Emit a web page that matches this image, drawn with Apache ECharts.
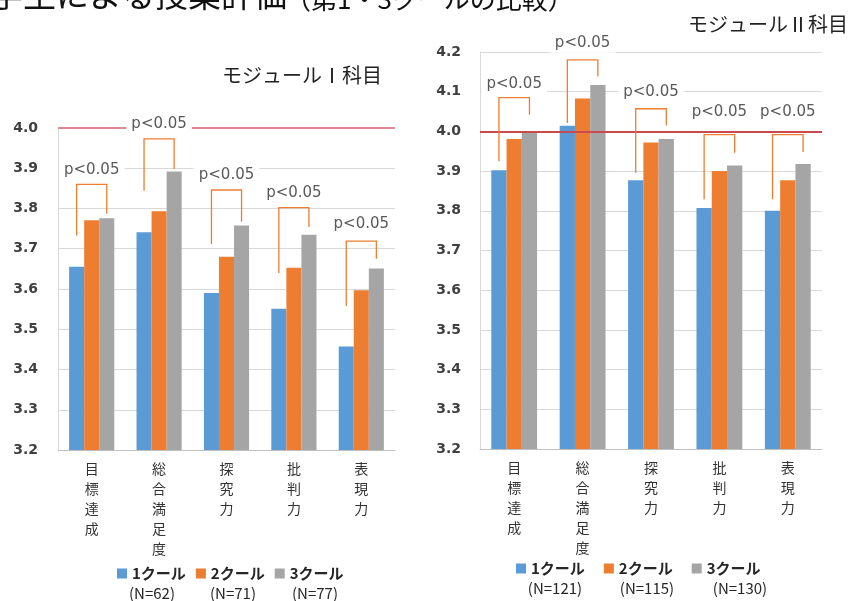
<!DOCTYPE html>
<html>
<head>
<meta charset="utf-8">
<script src="https://cdn.jsdelivr.net/npm/echarts@6/dist/echarts.min.js"></script>
<style>
html,body{margin:0;padding:0;background:#fff;}
#chart{width:854px;height:601px;}
</style>
</head>
<body>
<div id="chart"></div>
<script>
// ---------- data ----------
const categories = ['目標達成', '総合満足度', '探究力', '批判力', '表現力'];
const seriesNames = ['1クール', '2クール', '3クール'];

// モジュールⅠ科目
const m1Cool1 = [3.655, 3.741, 3.590, 3.551, 3.457];
const m1Cool2 = [3.771, 3.793, 3.680, 3.653, 3.597];
const m1Cool3 = [3.776, 3.892, 3.758, 3.735, 3.651];
const m1N = ['(N=62)', '(N=71)', '(N=77)'];

// モジュールⅡ科目
const m2Cool1 = [3.902, 4.014, 3.877, 3.807, 3.800];
const m2Cool2 = [3.981, 4.083, 3.972, 3.900, 3.877];
const m2Cool3 = [4.000, 4.117, 3.981, 3.914, 3.918];
const m2N = ['(N=121)', '(N=115)', '(N=130)'];

// significance brackets (axis units)
const m1BracketTop   = [3.860, 3.973, 3.846, 3.802, 3.719];
const m1BracketLeft  = [3.733, 3.844, 3.712, 3.640, 3.558];
const m1BracketRight = [3.787, 3.898, 3.767, 3.754, 3.675];
const m1LabelY       = [3.896, 4.009, 3.883, 3.838, 3.761];

const m2BracketTop   = [4.085, 4.180, 4.057, 3.992, 3.992];
const m2BracketLeft  = [3.925, 4.021, 3.896, 3.829, 3.829];
const m2BracketRight = [4.042, 4.138, 4.015, 3.946, 3.948];
const m2LabelY       = [4.120, 4.222, 4.098, 4.048, 4.048];

const sigText = 'p<0.05';
const refLine = 4.0;
const m1Min = 3.2, m1Max = 4.0, m2Min = 3.2, m2Max = 4.2, yStep = 0.1;

// ---------- styles ----------
const colors = ['#5B9BD5', '#ED7D31', '#A5A5A5'];
const jp = '"Noto Sans CJK JP", "Noto Sans", sans-serif';

function yAxisCfg(gi, mn, mx, margin) {
  return {
    type: 'value', gridIndex: gi, min: mn, max: mx, interval: yStep,
    axisLine: { show: true, lineStyle: { color: '#D9D9D9' } },
    axisTick: { show: false },
    splitLine: { lineStyle: { color: '#D9D9D9', width: 1 } },
    axisLabel: {
      margin: margin, color: '#404040', fontSize: 14, fontWeight: 'bold',
      fontFamily: '"DejaVu Sans", sans-serif',
      formatter: v => v.toFixed(1)
    }
  };
}
function xAxisCfg(gi) {
  return {
    type: 'category', gridIndex: gi, data: categories,
    axisLine: { lineStyle: { color: '#BFBFBF' } },
    axisTick: { length: 5, lineStyle: { color: '#BFBFBF' } },
    axisLabel: {
      margin: 9, color: '#333', fontSize: 14, lineHeight: 20, fontFamily: jp,
      formatter: v => v.split('').join('\n')
    }
  };
}
function barSeries(name, data, idx, gi, withLine, lineColor) {
  const s = {
    type: 'bar', name: name, data: data, xAxisIndex: gi, yAxisIndex: gi,
    barGap: '0%', barCategoryGap: '33%',
    itemStyle: { color: colors[idx] },
    emphasis: { disabled: true },
    animation: false
  };
  if (withLine) {
    s.markLine = {
      silent: true, symbol: ['none', 'none'], label: { show: false },
      lineStyle: { color: lineColor, width: 2, type: 'solid' },
      data: [{ yAxis: refLine }],
      animation: false
    };
  }
  return s;
}
function bracketSeries(gi, top, left, right, labY) {
  return {
    type: 'custom', xAxisIndex: gi, yAxisIndex: gi, z: 10, clip: false,
    silent: true, animation: false,
    encode: { x: 0, y: 1 },
    data: categories.map((c, i) => [i, top[i], left[i], right[i], labY[i]]),
    renderItem: function (params, api) {
      const i = api.value(0);
      const pTop = api.coord([i, api.value(1)]);
      const bw = api.size([1, 0])[0];
      const off = bw * 0.2233;
      const xl = pTop[0] - off, xr = pTop[0] + off;
      const yl = api.coord([i, api.value(2)])[1];
      const yr = api.coord([i, api.value(3)])[1];
      const yLab = api.coord([i, api.value(4)])[1];
      return {
        type: 'group',
        children: [
          {
            type: 'polyline',
            shape: { points: [[xl, yl], [xl, pTop[1]], [xr, pTop[1]], [xr, yr]] },
            style: { stroke: '#ED7D31', lineWidth: 1.3, fill: null }
          },
          {
            type: 'text',
            z2: 20,
            style: {
              text: sigText, x: pTop[0], y: yLab, align: 'center', verticalAlign: 'middle',
              font: '15px "DejaVu Sans", sans-serif', fill: '#595959',
              backgroundColor: '#ffffff', padding: [2, 5]
            }
          }
        ]
      };
    }
  };
}

const chart = echarts.init(document.getElementById('chart'), null, { renderer: 'canvas' });

const legendBase = {
  data: seriesNames, icon: 'rect', itemWidth: 10, itemHeight: 10,
  selectedMode: false,
  textStyle: { fontSize: 15, fontWeight: 'bold', color: '#262626', fontFamily: jp }
};

const option = {
  backgroundColor: '#ffffff',
  animation: false,
  grid: [
    { left: 58, right: 854 - 395, top: 128, bottom: 601 - 450, containLabel: false },
    { left: 480, right: 854 - 822, top: 52, bottom: 601 - 449, containLabel: false }
  ],
  xAxis: [xAxisCfg(0), xAxisCfg(1)],
  yAxis: [yAxisCfg(0, m1Min, m1Max, 20), yAxisCfg(1, m2Min, m2Max, 19)],
  legend: [
    Object.assign({}, legendBase, { left: 112, top: 561, itemGap: 10 }),
    Object.assign({}, legendBase, { left: 511, top: 556, itemGap: 19 })
  ],
  series: [
    barSeries(seriesNames[0], m1Cool1, 0, 0, true, '#DA8A92'),
    barSeries(seriesNames[1], m1Cool2, 1, 0, false),
    barSeries(seriesNames[2], m1Cool3, 2, 0, false),
    bracketSeries(0, m1BracketTop, m1BracketLeft, m1BracketRight, m1LabelY),
    barSeries(seriesNames[0], m2Cool1, 0, 1, true, '#C9494E'),
    barSeries(seriesNames[1], m2Cool2, 1, 1, false),
    barSeries(seriesNames[2], m2Cool3, 2, 1, false),
    bracketSeries(1, m2BracketTop, m2BracketLeft, m2BracketRight, m2LabelY)
  ],
  graphic: [
    { type: 'text', left: -10, top: -22, z: 100,
      style: { text: '学生による授業評価', font: '33px ' + jp, fill: '#111' } },
    { type: 'text', left: 285, top: -14, z: 100,
      style: { text: '（第1・3クールの比較）', font: '26px ' + jp, fill: '#111' } },
    { type: 'text', left: 222, top: 65, z: 100,
      style: { text: 'モジュールⅠ科目', font: '20px ' + jp, fill: '#222' } },
    { type: 'text', left: 688, top: 14, z: 100,
      style: { text: 'モジュールⅡ科目', font: '20px ' + jp, fill: '#222' } },
    ...m1N.map((t, k) => ({ type: 'text', x: [152, 233, 315][k], y: 593, z: 100,
      style: { text: t, align: 'center', verticalAlign: 'middle', font: '15px ' + jp, fill: '#262626' } })),
    ...m2N.map((t, k) => ({ type: 'text', x: [555, 647, 740][k], y: 588, z: 100,
      style: { text: t, align: 'center', verticalAlign: 'middle', font: '15px ' + jp, fill: '#262626' } }))
  ]
};
chart.setOption(option);
</script>
</body>
</html>
